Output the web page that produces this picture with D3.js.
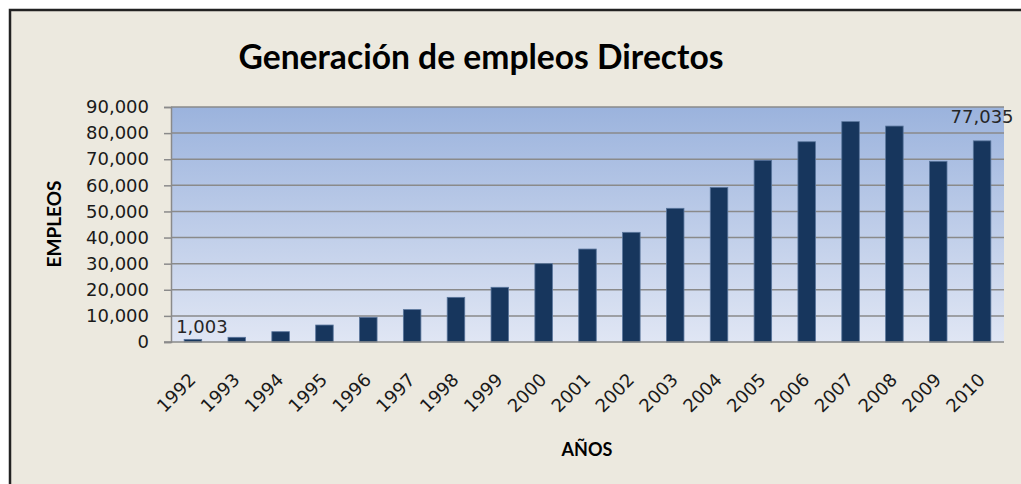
<!DOCTYPE html>
<html>
<head>
<meta charset="utf-8">
<script src="https://cdn.jsdelivr.net/npm/d3@7"></script>
<style>
  body { margin:0; background:#ffffff; }
  .tick text { font-family:"DejaVu Sans", sans-serif; font-size:18px; fill:#1a1a1a; }
</style>
</head>
<body>
<div id="chart"></div>
<script>
// data
var years = ["1992","1993","1994","1995","1996","1997","1998","1999","2000","2001",
             "2002","2003","2004","2005","2006","2007","2008","2009","2010"];
var empleos = [1003, 1800, 3950, 6500, 9450, 12400, 17100, 20950, 30000, 35600,
               42000, 51200, 59200, 69600, 76700, 84400, 82700, 69200, 77035];
var yTicks = [0,10000,20000,30000,40000,50000,60000,70000,80000,90000];
var labelled = ["1992","2010"];

var W = 1021, H = 484;
var m = {left:171, right:17, top:107, bottom:142};

var svg = d3.select("div#chart").append("svg")
    .attr("width", W).attr("height", H);

// frame
svg.append("rect").attr("x",10).attr("y",10).attr("width",W+10).attr("height",H+10)
    .attr("fill","#ECE9DF").attr("stroke","#222").attr("stroke-width",2.5);

var defs = svg.append("defs");
var grad = defs.append("linearGradient").attr("id","bg").attr("x1",0).attr("y1",0).attr("x2",0).attr("y2",1);
grad.append("stop").attr("offset","0%").attr("stop-color","#9BB3DD");
grad.append("stop").attr("offset","100%").attr("stop-color","#E0E6F4");

var x = d3.scaleBand().domain(years).range([m.left, W-m.right]).paddingInner(0.6).paddingOuter(0.3);
var y = d3.scaleLinear().domain([0,90000]).range([H-m.bottom, m.top]);

svg.append("rect").attr("x",m.left).attr("y",m.top)
    .attr("width",W-m.right-m.left).attr("height",H-m.bottom-m.top)
    .attr("fill","url(#bg)");

// gridlines
svg.append("g").selectAll("line").data(yTicks.slice(1)).enter().append("line")
    .attr("x1",m.left).attr("x2",W-m.right)
    .attr("y1",function(d){return y(d);}).attr("y2",function(d){return y(d);})
    .attr("stroke","#8a8a8a").attr("stroke-width",1.5);

// bars
svg.append("g").selectAll("rect").data(years).enter().append("rect")
    .attr("x",function(d){return x(d);})
    .attr("width",x.bandwidth())
    .attr("y",function(d,i){return y(empleos[i]);})
    .attr("height",function(d,i){return y(0)-y(empleos[i]);})
    .attr("fill","#17365D").attr("stroke","#5a769c").attr("stroke-width",0.8);

// y axis
var yAxis = svg.append("g").attr("transform","translate("+m.left+",0)")
    .call(d3.axisLeft(y).tickValues(yTicks).tickFormat(d3.format(",")).tickSize(7).tickPadding(15));
yAxis.select(".domain").attr("stroke","#8a8a8a").attr("stroke-width",1.5);
yAxis.selectAll(".tick line").attr("stroke","#8a8a8a").attr("stroke-width",1.5);

// x axis line
svg.append("line").attr("x1",m.left-7).attr("x2",W-m.right)
    .attr("y1",y(0)).attr("y2",y(0)).attr("stroke","#8a8a8a").attr("stroke-width",1.5);

// x labels
svg.append("g").selectAll("text").data(years).enter().append("text")
    .attr("transform",function(d){return "translate("+(x(d)+x.bandwidth()/2+4)+",381) rotate(-45)";})
    .attr("text-anchor","end")
    .style("font-family","DejaVu Sans, sans-serif").style("font-size","18px").style("fill","#1a1a1a")
    .text(function(d){return d;});

// data labels
svg.append("g").selectAll("text").data(labelled).enter().append("text")
    .attr("x",function(d,i){return x(d)+x.bandwidth()/2 + (i==0 ? 9 : 0);})
    .attr("y",function(d,i){return y(empleos[years.indexOf(d)]) - (i==0 ? 6 : 18);})
    .attr("text-anchor","middle")
    .style("font-family","DejaVu Sans, sans-serif").style("font-size","18px").style("fill","#262626")
    .text(function(d){return d3.format(",")(empleos[years.indexOf(d)]);});

// titles
svg.append("text").attr("x",481).attr("y",69).attr("text-anchor","middle")
    .attr("textLength",485).attr("lengthAdjust","spacingAndGlyphs")
    .style("font-family","Lato, sans-serif").style("font-weight","bold").style("font-size","34px")
    .text("Generación de empleos Directos");

svg.append("text").attr("x",587).attr("y",456).attr("text-anchor","middle")
    .style("font-family","Lato, sans-serif").style("font-weight","bold").style("font-size","18px")
    .text("AÑOS");

svg.append("text").attr("transform","translate(61,224) rotate(-90)").attr("text-anchor","middle")
    .style("font-family","Lato, sans-serif").style("font-weight","bold").style("font-size","19px")
    .text("EMPLEOS");
</script>
</body>
</html>
